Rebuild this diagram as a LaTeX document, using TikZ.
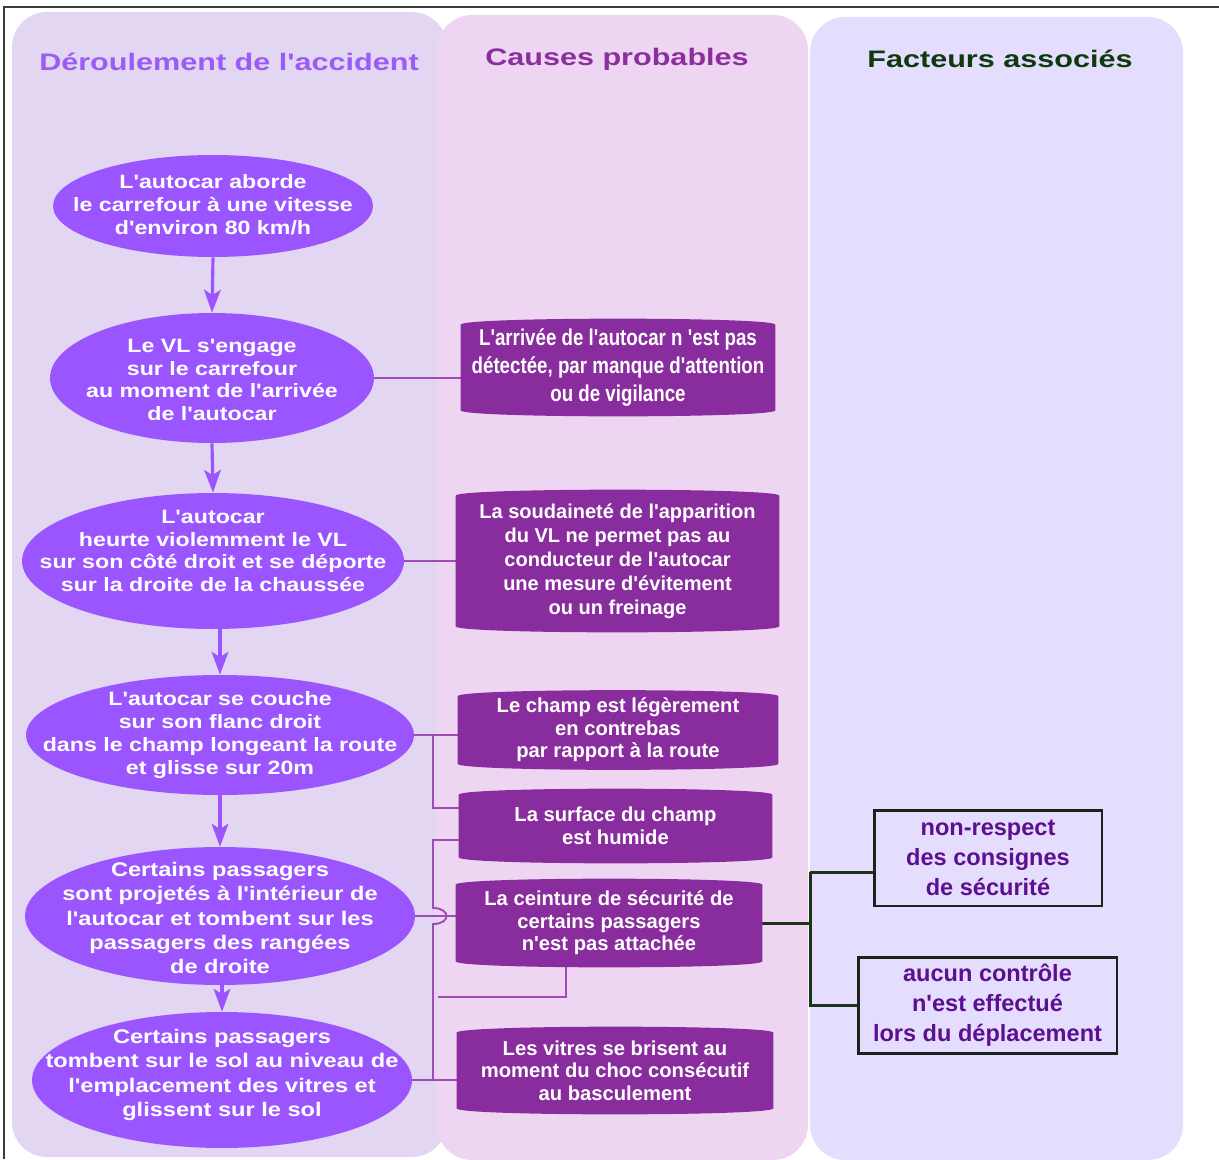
\documentclass[tikz,border=0pt]{standalone}
\usepackage{fontspec}
\setmainfont{Liberation Sans}
\newfontfamily\plainF{Liberation Sans}
\newfontfamily\wideF[FakeStretch=1.2]{Liberation Sans}
\newfontfamily\headF[FakeStretch=1.28]{Liberation Sans}
\newfontfamily\narrowF[FakeStretch=0.82]{Liberation Sans}
\usetikzlibrary{shapes.geometric,arrows.meta,calc}
\definecolor{colA}{HTML}{E3D6F2}
\definecolor{colB}{HTML}{EED6F3}
\definecolor{colC}{HTML}{E4DDFD}
\definecolor{evtfill}{HTML}{9B55FF}
\definecolor{causefill}{HTML}{882C9E}
\definecolor{linkc}{HTML}{A04CB6}
\definecolor{greenc}{HTML}{1B3319}
\definecolor{factline}{HTML}{1E211E}
\definecolor{facttext}{HTML}{5C0F8F}
\definecolor{hA}{HTML}{9B5BF6}
\definecolor{hB}{HTML}{8B2E9E}
\definecolor{hC}{HTML}{0E3A0E}
\definecolor{framec}{HTML}{3A3A3A}
\newcommand\evtfont{\wideF\bfseries\fontsize{11}{13}\selectfont}
\newcommand\evtfontb{\wideF\bfseries\fontsize{11.2}{13.9}\selectfont}
\newcommand\hdfont{\headF\bfseries\fontsize{13.6}{16}\selectfont}
\newcommand\causefont{\plainF\bfseries\fontsize{11.5}{12.9}\selectfont}
\newcommand\causefontb{\plainF\bfseries\fontsize{11.4}{13.7}\selectfont}
\newcommand\causenfont{\narrowF\bfseries\fontsize{13}{15.9}\selectfont}
\newcommand\factfont{\plainF\bfseries\fontsize{13.4}{17}\selectfont}
\newcommand\causeshape[1]{%
  \fill[causefill] (#1.north west)
    .. controls ($(#1.north west)+(0,-8)$) and ($(#1.north east)+(0,-8)$) .. (#1.north east)
    -- (#1.south east)
    .. controls ($(#1.south east)+(0,8)$) and ($(#1.south west)+(0,8)$) .. (#1.south west)
    -- cycle;}
\pgfdeclarelayer{back}
\pgfdeclarelayer{mid}
\pgfsetlayers{back,mid,main}
\tikzset{
  column/.style={rounded corners=20pt},
  evt/.style={ellipse, fill=evtfill, inner sep=0pt},
  evttext/.style={text=white, inner sep=0pt, align=center, font=\evtfont},
  cause/.style={rectangle, inner sep=0pt, text=white, align=center, font=\causefont},
  fact/.style={rectangle, draw=factline, line width=1.7pt, fill=colC, text=facttext, align=center, inner sep=0pt, font=\factfont},
  arr/.style={draw=evtfill, line width=1.8pt, -{Stealth[length=13pt,width=9.5pt,inset=3pt]}},
  link/.style={draw=linkc, line width=1.1pt},
  glink/.style={draw=greenc, line width=1.7pt},
  head/.style={font=\hdfont},
  framel/.style={draw=framec, line width=0.9pt}
}
\begin{document}
\begin{tikzpicture}[x=0.02cm,y=-0.02cm]
\useasboundingbox (0,0) rectangle (1219,1159);
\begin{pgfonlayer}{back}
  \fill[white] (0,0) rectangle (1219,1159);
  \fill[colA, column] (12,12) rectangle (447,1157);
  \fill[colB, column] (437,15) rectangle (808,1160);
  \fill[colC, column] (810,17) rectangle (1183,1160);
  \draw[framel] (4,1159) -- (4,7) -- (1219,7);
\end{pgfonlayer}

% headers
\node[head, text=hA] (hA) at (229,62) {Déroulement de l'accident};
\node[head, text=hB] (hB) at (617,59) {Causes probables};
\node[head, text=hC] (hC) at (1000,59) {Facteurs associés};

% events (shapes)
\node[evt, minimum width=6.4cm, minimum height=2.04cm] (e1) at (213,206) {};
\node[evt, minimum width=6.48cm, minimum height=2.6cm] (e2) at (212,378) {};
\node[evt, minimum width=7.64cm, minimum height=2.72cm] (e3) at (213,561) {};
\node[evt, minimum width=7.76cm, minimum height=2.4cm] (e4) at (220,735) {};
\node[evt, minimum width=7.8cm, minimum height=2.76cm] (e5) at (220,916) {};
\node[evt, minimum width=7.6cm, minimum height=2.72cm] (e6) at (222,1080) {};
% events (texts)
\node[evttext] (t1) at (213,205)
  {L'autocar aborde\\le carrefour à une vitesse\\d'environ 80 km/h};
\node[evttext] (t2) at (212,380)
  {Le VL s'engage\\sur le carrefour\\au moment de l'arrivée\\de l'autocar};
\node[evttext] (t3) at (213,551)
  {L'autocar\\heurte violemment le VL\\sur son côté droit et se déporte\\sur la droite de la chaussée};
\node[evttext] (t4) at (220,735)
  {L'autocar se couche\\sur son flanc droit\\dans le champ longeant la route\\et glisse sur 20m};
\node[evttext, font=\evtfontb] (t5) at (220,918)
  {Certains passagers\\sont projetés à l'intérieur de\\l'autocar et tombent sur les\\passagers des rangées\\de droite};
\node[evttext, font=\evtfontb] (t6) at (222,1075)
  {Certains passagers\\tombent sur le sol au niveau de\\l'emplacement des vitres et\\glissent sur le sol};

% causes
\node[cause, font=\causenfont, minimum width=6.28cm, minimum height=1.7cm] (c1) at (618,367.5)
  {L'arrivée de l'autocar n 'est pas\\détectée, par manque d'attention\\ou de vigilance};
\node[cause, font=\causefontb, minimum width=6.46cm, minimum height=2.6cm] (c2) at (617.5,561)
  {La soudaineté de l'apparition\\du VL ne permet pas au\\conducteur de l'autocar\\une mesure d'évitement\\ou un freinage};
\node[cause, minimum width=6.4cm, minimum height=1.34cm] (c3) at (618,730)
  {Le champ est légèrement\\en contrebas\\par rapport à la route};
\node[cause, minimum width=6.26cm, minimum height=1.24cm] (c4) at (615.5,826)
  {La surface du champ\\est humide};
\node[cause, minimum width=6.12cm, minimum height=1.52cm] (c5) at (609,923)
  {La ceinture de sécurité de\\certains passagers\\n'est pas attachée};
\node[cause, minimum width=6.32cm, minimum height=1.5cm] (c6) at (615,1070.5)
  {Les vitres se brisent au\\moment du choc consécutif\\au basculement};

% factors
\node[fact, minimum width=4.56cm, minimum height=1.92cm] (f1) at (988,858)
  {non-respect\\des consignes\\de sécurité};
\node[fact, minimum width=5.18cm, minimum height=1.92cm] (f2) at (987.5,1005)
  {aucun contrôle\\n'est effectué\\lors du déplacement};

\coordinate (k1) at (433,808);
\coordinate (k2) at (433,840);
\coordinate (k3) at (566,997);
\coordinate (k4) at (438,997);
\coordinate (g) at (810,0);

\begin{pgfonlayer}{mid}
  % purple links
  \draw[link] (e2.east) -- (e2.east -| c1.west);
  \draw[link] (e3.east) -- (e3.east -| c2.west);
  \draw[link] (e4.east) -- (e4.east -| c3.west);
  \draw[link] (e4.east -| k1) -- (k1) -- (k1 -| c4.west);
  \draw[link] (k2 -| c4.west) -- (k2)
     -- ($(e5.east -| k2)+(0,-8)$)
     .. controls ($(e5.east -| k2)+(18,-8)$) and ($(e5.east -| k2)+(18,8)$) .. ($(e5.east -| k2)+(0,8)$)
     -- (e6.east -| k2);
  \draw[link] (e5.east) -- (e5.east -| c5.west);
  \draw[link] (e6.east) -- (e6.east -| c6.west);
  \draw[link] (k3 |- c5.south) -- (k3) -- (k4);
  % green links
  \draw[glink] (c5.east) -- (c5.east -| g);
  \draw[glink] ($(f1.west -| g)+(0,14)$) -- ($(f1.west)+(0,14)$);
  \draw[glink] ($(f1.west -| g)+(0,14)$) -- (f2.west -| g) -- (f2.west);
  % cause shapes
  \causeshape{c1}
  \causeshape{c2}
  \causeshape{c3}
  \causeshape{c4}
  \causeshape{c5}
  \causeshape{c6}
\end{pgfonlayer}

% event arrows
\draw[arr] (e1.south) -- (e2.north);
\draw[arr] (e2.south) -- (e3.north);
\draw[arr] (e3.south -| e4.north) -- (e4.north);
\draw[arr] (e4.south) -- (e5.north);
\draw[arr] (e5.south -| e6.north) -- (e6.north);
\end{tikzpicture}
\end{document}
